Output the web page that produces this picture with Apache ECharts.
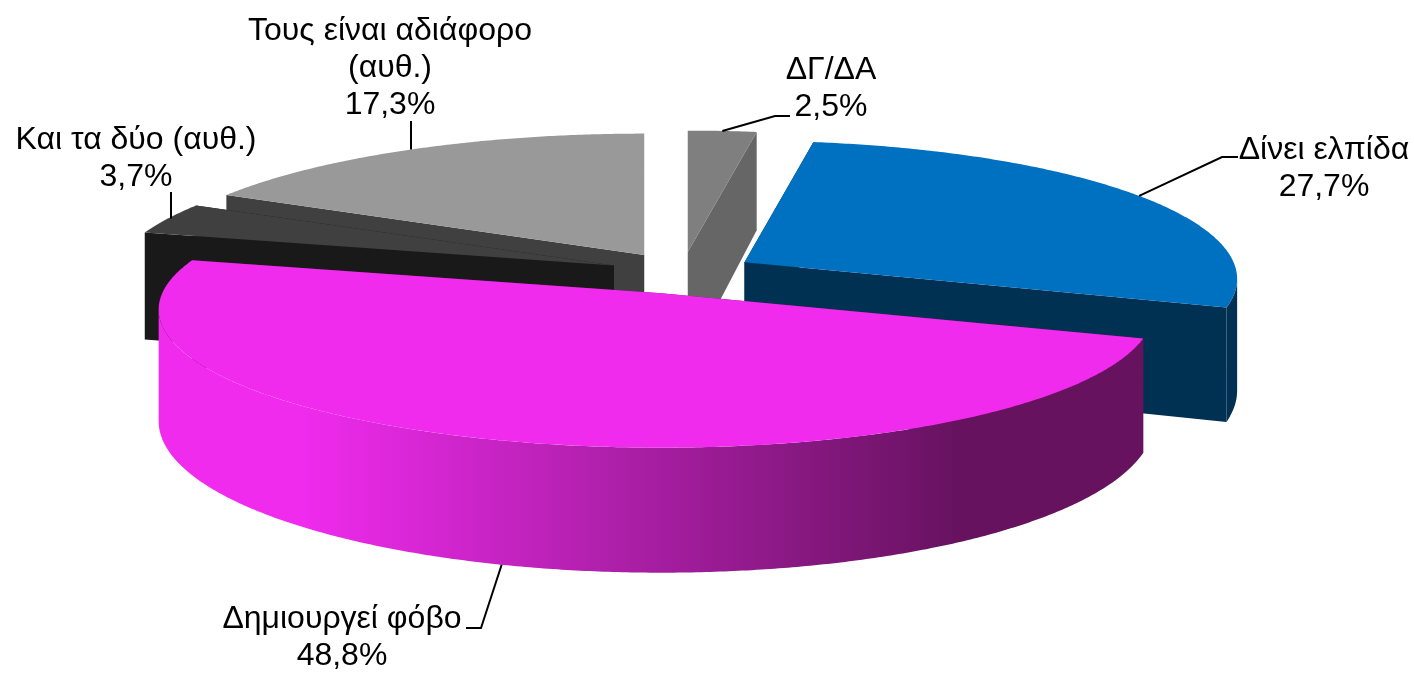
<!DOCTYPE html>
<html>
<head>
<meta charset="utf-8">
<style>
  html, body { margin: 0; padding: 0; background: #fff; }
  #chart { width: 1414px; height: 673px; }
</style>
<script src="https://cdn.jsdelivr.net/npm/echarts@6/dist/echarts.min.js"></script>
</head>
<body>
<div id="chart"></div>
<script>
// values run clockwise from 12 o'clock
const categories = ["ΔΓ/ΔΑ", "Δίνει ελπίδα", "Δημιουργεί φόβο", "Και τα δύο (αυθ.)", "Τους είναι αδιάφορο\n(αυθ.)"];
const values = [2.5, 27.7, 48.8, 3.7, 17.3];

const topColors = ["#7f7f7f", "#0070c0", "#f02bee", "#404040", "#999999"];
const sideColors = ["#666666", "#003153", "#66125f", "#191919", "#404040"];

// back slices first
const paintOrder = [0, 4, 3, 1, 2];

// label layout, same order as categories
const labelCenters = [[831, 89], [1324, 169], [342, 638], [136, 159], [390, 68]];
const leaderBends = [
  [[775, 116], [790, 116]],
  [[1222, 157], [1238, 157]],
  [[481, 628], [466, 628]],
  [[171, 192]],
  [[411, 121]]
];

// pie geometry
const CX = 682, CY = 273;
const RX = 494, RY = 136;
const DEPTH = 110;
const EXPLODE_X = 73, EXPLODE_Y = 21;
const PERSPECTIVE = 0.12;
const SKEW = 0.01;
const LABEL_FONT = '32px "Liberation Sans"';

const total = values.reduce((a, b) => a + b, 0);
const slices = [];
let acc = 0;
for (let i = 0; i < values.length; i++) {
  const start = (acc / total) * Math.PI * 2;
  acc += values[i];
  const end = (acc / total) * Math.PI * 2;
  const mid = (start + end) / 2;
  slices.push({
    start: start,
    end: end,
    mid: mid,
    ax: CX + EXPLODE_X * Math.sin(mid),
    ay: CY - EXPLODE_Y * Math.cos(mid)
  });
}

// outer wall only shows between the two side extremes of the ellipse
const wallFrom = Math.acos(-PERSPECTIVE);
const wallTo = Math.PI * 2 - wallFrom;

function scaleAt(v) {
  return 1 / (1 - PERSPECTIVE * v);
}

function rimPoint(slice, angle, down) {
  const u = Math.sin(angle);
  const v = -Math.cos(angle);
  const s = scaleAt(v);
  return [
    slice.ax + RX * u * s * (1 - SKEW * u),
    slice.ay + RY * v * s + (down ? DEPTH * s : 0)
  ];
}

function arc(slice, from, to, down) {
  const pts = [];
  const steps = Math.max(4, Math.ceil((to - from) * 120));
  for (let k = 0; k <= steps; k++) {
    pts.push(rimPoint(slice, from + ((to - from) * k) / steps, down));
  }
  return pts;
}

function polygon(points, fill) {
  return { type: "polygon", shape: { points: points }, style: { fill: fill, stroke: null } };
}

function faceAt(slice, angle, fill) {
  const apexDown = [slice.ax, slice.ay + DEPTH];
  return polygon([[slice.ax, slice.ay], rimPoint(slice, angle, false), rimPoint(slice, angle, true), apexDown], fill);
}

function sideFill(i) {
  if (i !== 2) return sideColors[i];
  // the big slice is lit from the left
  return {
    type: "linear",
    global: true,
    x: 300, y: 0, x2: 960, y2: 0,
    colorStops: [
      { offset: 0, color: topColors[i] },
      { offset: 1, color: sideColors[i] }
    ]
  };
}

function renderSlice(params, api) {
  const i = api.value(0);
  const slice = slices[i];
  const children = [];

  children.push(faceAt(slice, slice.start, sideColors[i]));
  children.push(faceAt(slice, slice.end, sideColors[i]));

  const from = Math.max(slice.start, wallFrom);
  const to = Math.min(slice.end, wallTo);
  if (to > from) {
    children.push(polygon(arc(slice, from, to, false).concat(arc(slice, from, to, true).reverse()), sideFill(i)));
  }
  children.push(polygon([[slice.ax, slice.ay]].concat(arc(slice, slice.start, slice.end, false)), topColors[i]));

  return { type: "group", children: children };
}

function renderLabel(params, api) {
  const i = api.value(0);
  const slice = slices[i];
  // the leader of the front slice leaves from the lower rim
  const from = rimPoint(slice, slice.mid, i === 2);
  const bends = leaderBends[i];
  if (bends.length === 1) from[0] = bends[0][0];
  const text = categories[i] + "\n" + values[i].toFixed(1).replace(".", ",") + "%";
  return {
    type: "group",
    children: [
      {
        type: "polyline",
        shape: { points: [from].concat(bends) },
        style: { fill: null, stroke: "#000", lineWidth: 2 }
      },
      {
        type: "text",
        style: {
          text: text,
          x: labelCenters[i][0],
          y: labelCenters[i][1],
          font: LABEL_FONT,
          fill: "#000",
          align: "center",
          verticalAlign: "middle",
          lineHeight: 37
        }
      }
    ]
  };
}

const chart = echarts.init(document.getElementById("chart"), null, { renderer: "canvas" });

chart.setOption({
  backgroundColor: "#ffffff",
  animation: false,
  series: [
    {
      type: "custom",
      coordinateSystem: "none",
      silent: true,
      renderItem: renderSlice,
      data: paintOrder.map(function(i) { return [i]; })
    },
    {
      type: "custom",
      coordinateSystem: "none",
      silent: true,
      renderItem: renderLabel,
      data: categories.map(function(c, i) { return [i]; })
    }
  ]
});
</script>
</body>
</html>
